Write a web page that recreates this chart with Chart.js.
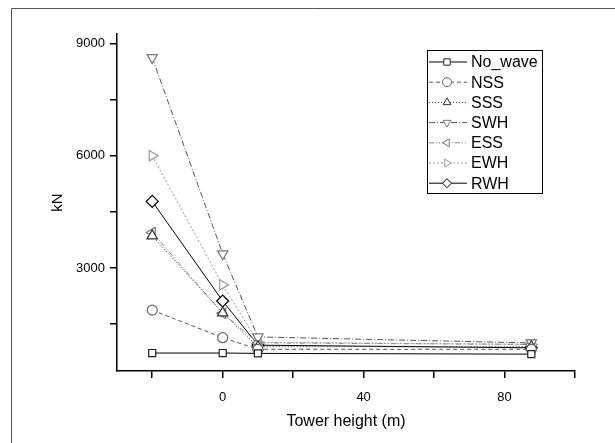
<!DOCTYPE html>
<html>
<head>
<meta charset="utf-8">
<script src="https://cdn.jsdelivr.net/npm/chart.js@4"></script>
<style>
  html, body { margin: 0; padding: 0; background: #fff; }
  #wrap { width: 615px; height: 443px; position: relative; }
</style>
</head>
<body>
<div id="wrap"><canvas id="myChart" width="615" height="443"></canvas></div>
<script>
// tower heights (m)
var heights = [-20, 0, 10, 87.6];

// forces (kN) per load case
var noWave = [730, 730, 720, 700];
var nss = [1875, 1140, 830, 830];
var sss = [3860, 1800, 900, 900];
var swh = [8620, 3380, 1160, 1000];
var ess = [3950, 1790, 1000, 960];
var ewh = [6000, 2550, 1020, 960];
var rwh = [4780, 2120, 940, 870];

var xTicks = [-20, 0, 20, 40, 60, 80, 100];
var xLabels = [0, 40, 80];
var yTicks = [1500, 3000, 4500, 6000, 7500, 9000];
var yLabels = [3000, 6000, 9000];

var FONT = "'Liberation Sans', Arial, sans-serif";

function pts(vals) {
    return heights.map(function (h, i) { return { x: h, y: vals[i] }; });
}

function series(label, vals, color, dash, style, rot, radius, markColor) {
    return {
        label: label,
        data: pts(vals),
        showLine: true,
        borderColor: color,
        borderWidth: 1,
        borderDash: dash,
        pointStyle: style,
        rotation: rot,
        pointRadius: radius,
        pointBorderColor: markColor,
        pointBackgroundColor: '#fff',
        pointBorderWidth: 1.2
    };
}

var datasets = [
    series('No_wave', noWave, '#000', [], 'rect', 0, 5, '#222'),
    series('NSS', nss, '#555', [4, 3], 'circle', 0, 5, '#666'),
    series('SSS', sss, '#333', [1, 2], 'triangle', 0, 6, '#333'),
    series('SWH', swh, '#555', [6, 2, 1, 2], 'triangle', 180, 6, '#777'),
    series('ESS', ess, '#888', [5, 2, 1, 2, 1, 2], 'triangle', 270, 6, '#777'),
    series('EWH', ewh, '#999', [2, 2], 'triangle', 90, 6, '#999'),
    series('RWH', rwh, '#000', [], 'rectRot', 0, 6, '#000')
];

// frame around the figure
var framePlugin = {
    id: 'frame',
    beforeDraw: function (chart) {
        var c = chart.ctx;
        c.save();
        c.fillStyle = '#fff';
        c.fillRect(0, 0, chart.width, chart.height);
        c.strokeStyle = '#555';
        c.lineWidth = 1;
        c.beginPath();
        c.moveTo(11.5, 443);
        c.lineTo(11.5, 8.5);
        c.lineTo(615, 8.5);
        c.stroke();
        c.restore();
    }
};

// boxed legend inside the plot
var legendPlugin = {
    id: 'boxLegend',
    afterDatasetsDraw: function (chart) {
        var c = chart.ctx;
        var left = 427, top = 50, w = 115, h = 143;
        c.save();
        c.fillStyle = '#fff';
        c.fillRect(left, top, w, h);
        c.strokeStyle = '#000';
        c.lineWidth = 1;
        c.strokeRect(left + 0.5, top + 0.5, w, h);
        c.font = '16px ' + FONT;
        c.textBaseline = 'middle';
        chart.data.datasets.forEach(function (ds, i) {
            var y = 62 + i * 20.2;
            c.strokeStyle = ds.borderColor;
            c.lineWidth = 1;
            c.setLineDash(ds.borderDash);
            c.beginPath();
            c.moveTo(429, y);
            c.lineTo(467, y);
            c.stroke();
            c.setLineDash([]);
            c.fillStyle = '#fff';
            c.strokeStyle = ds.pointBorderColor;
            c.lineWidth = 1;
            Chart.helpers.drawPoint(c, { pointStyle: ds.pointStyle, rotation: ds.rotation, radius: 4.5, borderWidth: 1 }, 447, y);
            c.fillStyle = '#000';
            c.fillText(ds.label, 471, y + 1);
        });
        c.restore();
    }
};

var ctx = document.getElementById('myChart').getContext('2d');
var myChart = new Chart(ctx, {
    type: 'scatter',
    data: { datasets: datasets },
    plugins: [framePlugin, legendPlugin],
    options: {
        responsive: false,
        animation: false,
        layout: { padding: { left: 0, top: 34, right: 40, bottom: 0 } },
        plugins: {
            legend: { display: false },
            tooltip: { enabled: false }
        },
        scales: {
            x: {
                type: 'linear',
                min: -30,
                max: 100,
                afterBuildTicks: function (scale) {
                    scale.ticks = xTicks.map(function (v) { return { value: v }; });
                },
                afterFit: function (scale) { scale.height = 72; },
                ticks: {
                    autoSkip: false,
                    maxRotation: 0,
                    padding: 12,
                    color: '#000',
                    font: { size: 13, family: FONT },
                    callback: function (v) { return xLabels.indexOf(v) >= 0 ? String(v) : ''; }
                },
                grid: { drawOnChartArea: false, drawTicks: true, tickLength: 7, color: '#000', lineWidth: 1.5 },
                border: { color: '#000', width: 1.5 },
                title: {
                    display: true,
                    text: 'Tower height (m)',
                    color: '#000',
                    font: { size: 16, family: FONT },
                    padding: { top: 0, bottom: 12 }
                }
            },
            y: {
                type: 'linear',
                min: 250,
                max: 9250,
                afterBuildTicks: function (scale) {
                    scale.ticks = yTicks.map(function (v) { return { value: v }; });
                },
                afterFit: function (scale) { scale.width = 117; },
                ticks: {
                    autoSkip: false,
                    padding: 5,
                    color: '#000',
                    font: { size: 13, family: FONT },
                    callback: function (v) { return yLabels.indexOf(v) >= 0 ? String(v) : ''; }
                },
                grid: { drawOnChartArea: false, drawTicks: true, tickLength: 7, color: '#000', lineWidth: 1.5 },
                border: { color: '#000', width: 1.5 },
                title: {
                    display: true,
                    text: 'kN',
                    color: '#000',
                    font: { size: 15, family: FONT },
                    padding: { top: 49, bottom: 0 }
                }
            }
        }
    }
});
</script>
</body>
</html>
